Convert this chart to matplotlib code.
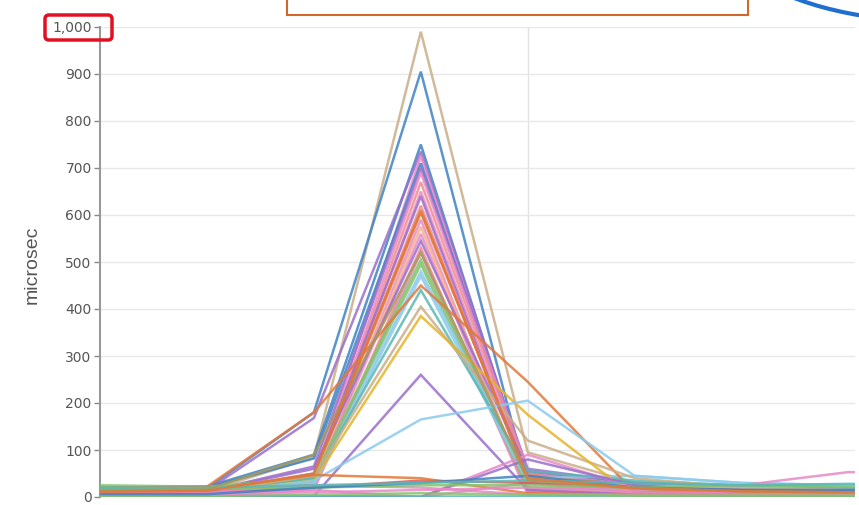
import matplotlib
matplotlib.use("Agg")
import matplotlib.pyplot as plt
from matplotlib.patches import FancyBboxPatch, Rectangle, Arc
from matplotlib.ticker import FuncFormatter

# ---- data (microsec per sample step) ----
steps = [0, 1, 2, 3, 4, 5, 6, 7, 8]
y_ticks = [0, 100, 200, 300, 400, 500, 600, 700, 800, 900, 1000]
y_label = "microsec"

palette = {
    "tan": "#c9ae88", "blue": "#3f83c4", "purple": "#9a6fcb", "pink": "#e889c8",
    "salmon": "#f08a8a", "orange": "#e2783a", "peach": "#f4b186", "green": "#84c46c",
    "lightblue": "#8ccbec", "teal": "#5ab8b3", "yellow": "#e6b42a", "red": "#e05a5a",
    "olive": "#a79a5a",
}

series_values = [
    [10, 12, 85, 990, 95, 30, 15, 12, 12],
    [15, 18, 180, 905, 30, 15, 10, 10, 10],
    [20, 22, 90, 750, 40, 20, 15, 15, 15],
    [12, 14, 168, 735, 50, 25, 15, 15, 15],
    [8, 10, 45, 725, 35, 15, 10, 10, 10],
    [18, 20, 82, 710, 45, 20, 15, 12, 12],
    [10, 12, 65, 700, 60, 30, 20, 15, 15],
    [6, 8, 40, 690, 55, 20, 10, 8, 8],
    [5, 8, 35, 670, 50, 15, 10, 8, 8],
    [7, 9, 30, 650, 40, 20, 12, 10, 10],
    [9, 10, 50, 640, 30, 15, 10, 10, 10],
    [6, 8, 40, 620, 35, 15, 8, 8, 8],
    [10, 12, 45, 605, 45, 25, 15, 12, 12],
    [5, 6, 25, 590, 10, 5, 5, 5, 5],
    [8, 10, 35, 575, 20, 10, 8, 8, 8],
    [6, 8, 30, 560, 15, 10, 8, 8, 8],
    [10, 12, 60, 545, 55, 30, 20, 15, 15],
    [5, 6, 20, 530, 10, 8, 6, 6, 6],
    [4, 5, 15, 520, 5, 5, 5, 5, 5],
    [25, 22, 40, 505, 30, 20, 25, 22, 22],
    [20, 18, 35, 495, 20, 15, 20, 20, 20],
    [15, 18, 30, 480, 40, 45, 30, 25, 25],
    [12, 15, 25, 470, 30, 25, 20, 20, 20],
    [20, 22, 180, 450, 245, 10, 12, 10, 10],
    [10, 12, 40, 440, 55, 35, 25, 20, 20],
    [8, 10, 45, 405, 120, 40, 20, 15, 15],
    [5, 8, 35, 385, 175, 0, 2, 2, 2],
    [3, 3, 2, 260, 15, 5, 5, 5, 5],
    [5, 5, 35, 165, 205, 45, 30, 25, 25],
    [3, 3, 0, 0, 90, 20, 10, 10, 10],
    [3, 3, 2, 0, 80, 25, 12, 10, 10],
    [5, 5, 15, 0, 30, 10, 8, 8, 8],
    [10, 12, 20, 35, 30, 20, 15, 12, 12],
    [12, 15, 47, 40, 8, 5, 5, 5, 5],
    [8, 10, 25, 20, 5, 5, 5, 5, 5],
    [3, 3, 3, 3, 3, 3, 3, 3, 3],
    [2, 2, 5, 8, 5, 3, 3, 3, 3],
    [5, 6, 10, 15, 20, 15, 25, 53, 48],
    [20, 18, 20, 25, 25, 20, 25, 22, 22],
    [6, 6, 20, 30, 45, 20, 15, 15, 15],
    [20, 20, 25, 30, 35, 30, 25, 28, 28],
    [14, 16, 90, 520, 35, 20, 12, 10, 10],
    [11, 13, 50, 610, 40, 18, 12, 10, 10],
]
series_colors = [
    "tan", "blue", "blue", "purple", "pink", "blue", "purple", "pink", "salmon",
    "pink", "purple", "salmon", "orange", "pink", "peach", "pink", "purple",
    "salmon", "pink", "green", "green", "lightblue", "lightblue", "orange",
    "teal", "tan", "yellow", "purple", "lightblue", "pink", "purple", "pink",
    "red", "orange", "pink", "teal", "green", "pink", "green", "blue", "teal",
    "olive", "orange",
]

# ---- figure ----
W, H = 859, 505
fig = plt.figure(figsize=(W / 100, H / 100), dpi=100)
plt.rcParams["font.family"] = ["Liberation Sans", "DejaVu Sans"]

ax = fig.add_axes([100 / W, 1 - 497 / H, 755 / W, 470 / H])
ax.set_ylim(0, 1000)
ax.set_xlim(0, 7.06)

for vals, cname in zip(series_values, series_colors):
    ax.plot(steps, vals, color=palette[cname], lw=1.8, alpha=0.85,
            solid_joinstyle="miter", clip_on=True, zorder=3)

ax.set_yticks(y_ticks)
ax.yaxis.set_major_formatter(FuncFormatter(lambda v, p: f"{int(v):,}"))
for lab in ax.get_yticklabels():
    lab.set_family("DejaVu Sans")
ax.set_xticks([4])
ax.tick_params(axis="x", length=0, labelbottom=False)
ax.tick_params(axis="y", length=4, width=1, color="#888888", labelsize=10,
               labelcolor="#555555", pad=2)
ax.grid(axis="y", color="#e8e8e8", lw=1)
ax.grid(axis="x", color="#e3e3e3", lw=1)
ax.set_axisbelow(True)
for s in ["top", "right", "bottom"]:
    ax.spines[s].set_visible(False)
ax.spines["left"].set_color("#999999")
ax.spines["left"].set_linewidth(1.5)

fig.text(32 / W, 1 - 265 / H, y_label, rotation=90, fontsize=14,
         color="#555555", ha="center", va="center")

# ---- annotations ----
ov = fig.add_axes([0, 0, 1, 1], facecolor="none")
ov.set_xlim(0, W)
ov.set_ylim(H, 0)
ov.axis("off")
ov.add_patch(FancyBboxPatch((45, 15), 67, 25,
                            boxstyle="round,pad=0,rounding_size=4",
                            fill=False, ec="#e01020", lw=2.5))
ov.add_patch(Rectangle((287, -10), 461, 25, fill=True, fc="white",
                       ec="#d0682c", lw=1.5))
ov.add_patch(Arc((930, -100), 463, 242, theta1=20, theta2=160,
                 color="#1f6fd0", lw=3))

fig.savefig("out.png", dpi=100)
